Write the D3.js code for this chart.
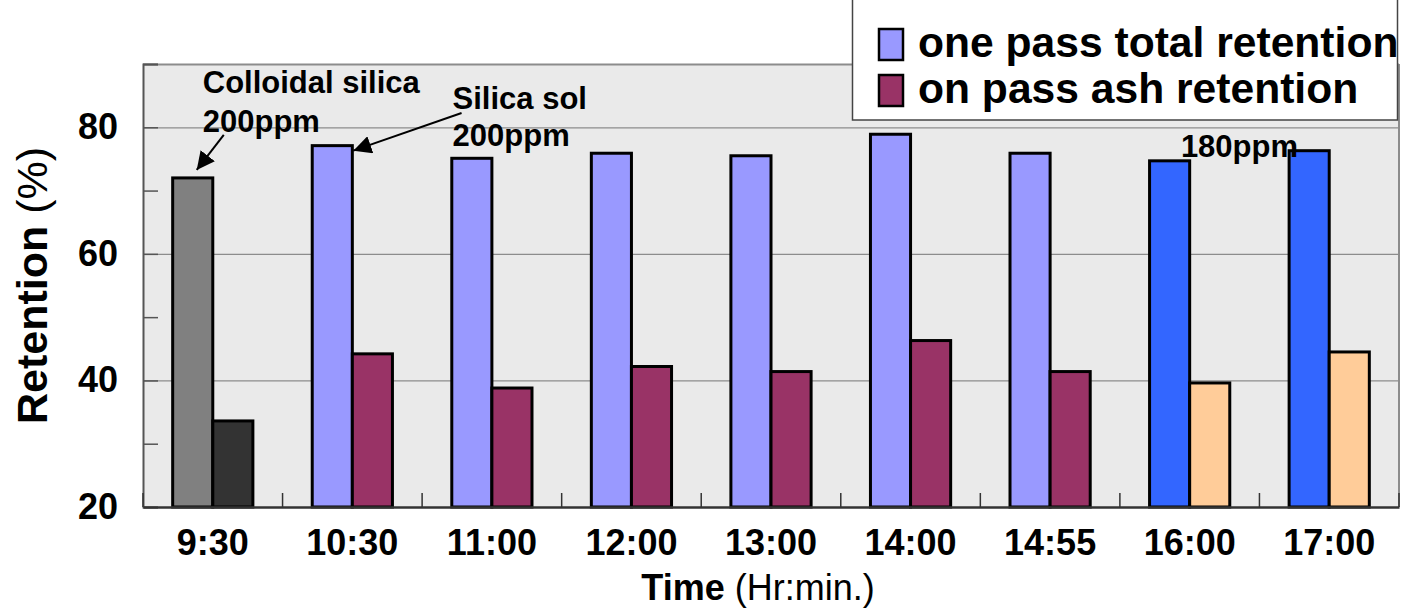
<!DOCTYPE html>
<meta charset="utf-8">
<style>
  body { margin: 0; background: #fff; }
  svg { display: block; font-family: "Liberation Sans", Arial, sans-serif; }
</style>
<svg width="1404" height="613"></svg>
<script src="https://cdn.jsdelivr.net/npm/d3@7"></script>
<script>

// data
var times = ["9:30", "10:30", "11:00", "12:00", "13:00", "14:00", "14:55", "16:00", "17:00"];
var totalRetention = [72.0, 77.1, 75.1, 75.9, 75.5, 78.9, 75.9, 74.7, 76.3];
var ashRetention = [33.6, 44.2, 38.8, 42.2, 41.4, 46.3, 41.4, 39.6, 44.5];
var dosing = ["colloidal", "sol200", "sol200", "sol200", "sol200", "sol200", "sol200", "sol180", "sol180"];
var seriesKeys = ["total", "ash"];
var seriesNames = ["one pass total retention", "on pass ash retention"];
var majorTicks = [20, 40, 60, 80];
var minorTicks = [30, 50, 70, 90];

var colors = {
  colloidal: ["#808080", "#333333"],
  sol200: ["#9999ff", "#993366"],
  sol180: ["#3366ff", "#ffcc99"]
};

var svg = d3.select("svg"),
    margin = {top: 64, right: 5, bottom: 106, left: 143},
    width = 1404 - margin.left - margin.right,
    height = 613 - margin.top - margin.bottom,
    g = svg.append("g").attr("transform", "translate(" + margin.left + "," + margin.top + ")");

var x = d3.scaleBand().domain(times).range([0, width]).padding(0);
var xs = d3.scaleBand().domain(seriesKeys).range([0, x.bandwidth()]).paddingInner(0).paddingOuter(0.74);
var y = d3.scaleLinear().domain([20, 90]).range([height, 0]);

var rows = times.map(function(t, i) {
  return {time: t, total: totalRetention[i], ash: ashRetention[i], dose: dosing[i]};
});

// plot background
g.append("rect")
    .attr("width", width)
    .attr("height", height)
    .attr("fill", "#eaeaea");

// grid lines
g.append("g").selectAll("line")
  .data([40, 60, 80, 90])
  .enter().append("line")
    .attr("x1", 0).attr("x2", width)
    .attr("y1", function(d) { return y(d) + 0.5; })
    .attr("y2", function(d) { return y(d) + 0.5; })
    .attr("stroke", "#8c8c8c")
    .attr("stroke-width", function(d) { return d === 90 ? 2 : 1.2; });

// right border
g.append("line")
    .attr("x1", width).attr("x2", width)
    .attr("y1", 0).attr("y2", height)
    .attr("stroke", "#8c8c8c").attr("stroke-width", 2);

// bars
var groups = g.append("g").selectAll("g")
  .data(rows)
  .enter().append("g")
    .attr("transform", function(d) { return "translate(" + x(d.time) + ",0)"; });

groups.selectAll("rect")
  .data(function(d) { return seriesKeys.map(function(k, j) { return {key: k, value: d[k], color: colors[d.dose][j]}; }); })
  .enter().append("rect")
    .attr("x", function(d) { return xs(d.key); })
    .attr("y", function(d) { return y(d.value); })
    .attr("width", xs.bandwidth())
    .attr("height", function(d) { return height - y(d.value); })
    .attr("fill", function(d) { return d.color; })
    .attr("stroke", "#000")
    .attr("stroke-width", 3);

// y axis
var yAxis = g.append("g")
    .call(d3.axisLeft(y).tickValues(majorTicks).tickSize(-15).tickPadding(25));
yAxis.select(".domain").attr("stroke", "#555").attr("stroke-width", 2);
yAxis.selectAll(".tick line").attr("stroke", "#555").attr("stroke-width", 1.5);
yAxis.selectAll("text")
    .attr("font-size", 36)
    .attr("font-weight", "bold")
    .attr("fill", "#000")
    .attr("font-family", "Liberation Sans, Arial, sans-serif");

g.append("g").selectAll("line")
  .data(minorTicks)
  .enter().append("line")
    .attr("x1", 0).attr("x2", 15)
    .attr("y1", function(d) { return y(d) + 0.5; })
    .attr("y2", function(d) { return y(d) + 0.5; })
    .attr("stroke", "#555").attr("stroke-width", 1.5);

// x axis
var xAxis = g.append("g")
    .attr("transform", "translate(0," + height + ")")
    .call(d3.axisBottom(x).tickSize(0).tickPadding(22));
xAxis.select(".domain").attr("stroke", "#333").attr("stroke-width", 2.5);
xAxis.selectAll("text")
    .attr("font-size", 36)
    .attr("font-weight", "bold")
    .attr("fill", "#000")
    .attr("font-family", "Liberation Sans, Arial, sans-serif");

g.append("g").selectAll("line")
  .data(d3.range(times.length + 1))
  .enter().append("line")
    .attr("x1", function(i) { return i * x.step(); })
    .attr("x2", function(i) { return i * x.step(); })
    .attr("y1", height).attr("y2", height - 14)
    .attr("stroke", "#333").attr("stroke-width", 1.5);

// axis titles
var xt = svg.append("text")
    .attr("x", margin.left + width / 2 - 13)
    .attr("y", 600)
    .attr("text-anchor", "middle")
    .attr("font-size", 36);
xt.append("tspan").attr("font-weight", "bold").text("Time");
xt.append("tspan").text(" (Hr:min.)");

var yt = svg.append("text")
    .attr("transform", "translate(47," + (margin.top + y(55)) + ") rotate(-90)")
    .attr("text-anchor", "middle")
    .attr("font-size", 43);
yt.append("tspan").attr("font-weight", "bold").text("Retention");
yt.append("tspan").text(" (%)");

// annotations
svg.append("defs").append("marker")
    .attr("id", "arrow")
    .attr("viewBox", "0 0 10 10")
    .attr("refX", 10).attr("refY", 5)
    .attr("markerWidth", 9).attr("markerHeight", 9)
    .attr("orient", "auto")
  .append("path")
    .attr("d", "M0,0L10,5L0,10z")
    .attr("fill", "#000");

var ann = g.append("g")
    .attr("font-size", 31)
    .attr("font-weight", "bold")
    .attr("fill", "#000");

var c0 = x(times[0]) + x.bandwidth() / 2;
ann.append("text").attr("x", c0 - 10).attr("y", 93 - margin.top).text("Colloidal silica");
ann.append("text").attr("x", c0 - 10).attr("y", 132 - margin.top).text("200ppm");
ann.append("line")
    .attr("x1", c0 + 11).attr("y1", y(totalRetention[0]) - 43)
    .attr("x2", xs("total") + xs.bandwidth() / 2 + 4).attr("y2", y(totalRetention[0]) - 8)
    .attr("stroke", "#000").attr("stroke-width", 2)
    .attr("marker-end", "url(#arrow)");

var c1 = x(times[1]);
ann.append("text").attr("x", c1 + 170).attr("y", 109 - margin.top).text("Silica sol");
ann.append("text").attr("x", c1 + 170).attr("y", 146 - margin.top).text("200ppm");
ann.append("line")
    .attr("x1", c1 + 179).attr("y1", 113 - margin.top)
    .attr("x2", c1 + xs("ash") + 1).attr("y2", y(totalRetention[1]) + 5)
    .attr("stroke", "#000").attr("stroke-width", 2)
    .attr("marker-end", "url(#arrow)");

ann.append("text").attr("x", x(times[7]) + 61).attr("y", 157 - margin.top).text("180ppm");

// legend
var legend = svg.append("g").attr("transform", "translate(852,0)");
legend.append("rect")
    .attr("x", 0.5).attr("y", -2)
    .attr("width", 545).attr("height", 122)
    .attr("fill", "#fff")
    .attr("stroke", "#444").attr("stroke-width", 1.5);

var legendColors = colors.sol200;
var items = legend.selectAll("g.item")
  .data(seriesNames)
  .enter().append("g")
    .attr("class", "item")
    .attr("transform", function(d, i) { return "translate(0," + (i * 46) + ")"; });
items.append("rect")
    .attr("x", 27).attr("y", 29)
    .attr("width", 24).attr("height", 31)
    .attr("fill", function(d, i) { return legendColors[i]; })
    .attr("stroke", "#000").attr("stroke-width", 2.5);
items.append("text")
    .attr("x", 66).attr("y", 57)
    .attr("font-size", 42.6)
    .attr("font-weight", "bold")
    .text(function(d) { return d; });

</script>
